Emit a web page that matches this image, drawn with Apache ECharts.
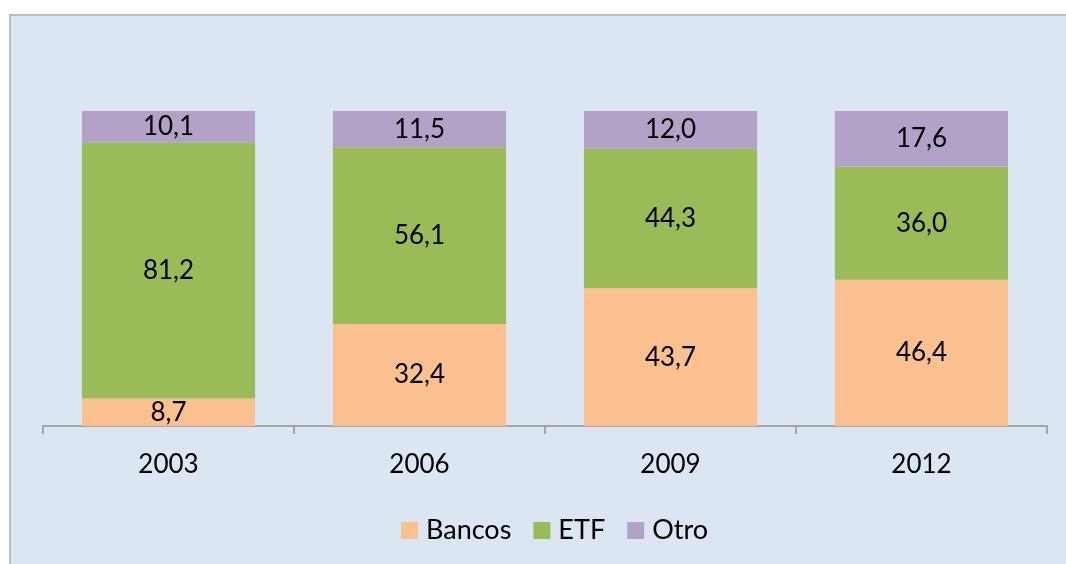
<!DOCTYPE html>
<html><head><meta charset="utf-8">
<script src="https://cdn.jsdelivr.net/npm/echarts@6/dist/echarts.min.js"></script>
<style>
html,body{margin:0;padding:0;background:#fff;width:1066px;height:564px;overflow:hidden;}
#panel{position:absolute;left:9px;top:14px;width:1060px;height:552px;background:#dce6f2;border-left:2px solid #bcbcbc;border-top:2px solid #bcbcbc;}
#c{position:absolute;left:0;top:0;width:1066px;height:564px;}
</style></head>
<body>
<div id="panel"></div>
<div id="c"></div>
<script>
var categories = ['2003','2006','2009','2012'];
var bancos = [8.7, 32.4, 43.7, 46.4];
var etf = [81.2, 56.1, 44.3, 36.0];
var otro = [10.1, 11.5, 12.0, 17.6];

var FONT = 'Lato';
var chart = echarts.init(document.getElementById('c'), null, {renderer:'canvas'});
function fmt(p){ return p.value.toFixed(1).replace('.', ','); }
function mk(name, data, color){
  return {
    name: name, type: 'bar', stack: 'total', data: data,
    barCategoryGap: '31%',
    itemStyle: {color: color},
    label: {show: true, position: 'inside', formatter: fmt, color: '#000', fontFamily: FONT, fontSize: 26},
    emphasis: {disabled: true}
  };
}
chart.setOption({
  backgroundColor: 'transparent',
  animation: false,
  grid: {left: 43, right: 19, top: 111, bottom: 138},
  xAxis: {
    type: 'category', data: categories,
    axisLine: {lineStyle: {color: '#a6a6a6', width: 2}},
    axisTick: {show: true, length: 8, lineStyle: {color: '#a6a6a6', width: 2}},
    axisLabel: {color: '#000', fontFamily: FONT, fontSize: 26, margin: 26}
  },
  yAxis: {type: 'value', min: 0, max: 100, show: false, splitLine: {show: false}},
  legend: {
    top: 512, left: 396, itemWidth: 17, itemHeight: 17, itemGap: 22,
    icon: 'rect',
    textStyle: {color: '#000', fontFamily: FONT, fontSize: 27, padding: [0,0,0,3]},
    data: ['Bancos','ETF','Otro']
  },
  series: [
    mk('Bancos', bancos, '#fac090'),
    mk('ETF', etf, '#9bbb59'),
    mk('Otro', otro, '#b3a2c7')
  ]
});
</script>
</body></html>
